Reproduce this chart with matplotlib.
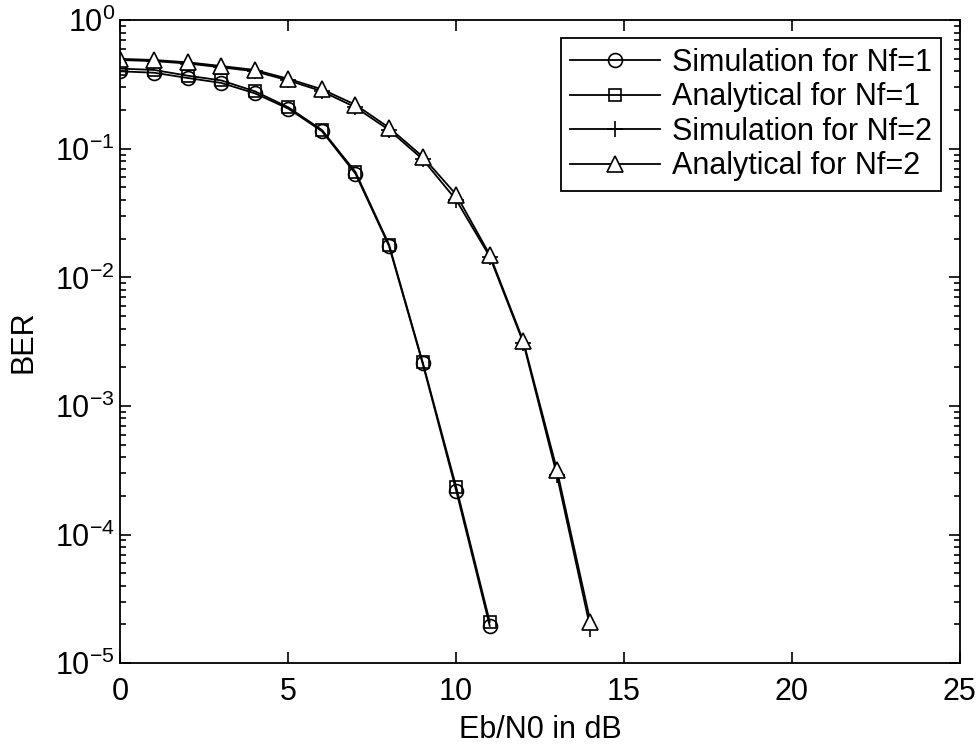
import numpy as np
import matplotlib
matplotlib.use('Agg')
import matplotlib.pyplot as plt

plt.rcParams['font.family'] = ['Liberation Sans', 'DejaVu Sans']
plt.rcParams['mathtext.fontset'] = 'custom'
plt.rcParams['mathtext.rm'] = 'Liberation Sans'
plt.rcParams['mathtext.it'] = 'Liberation Sans:italic'

# Eb/N0 (dB) and BER values
ebn0_nf1 = [0, 1, 2, 3, 4, 5, 6, 7, 8, 9, 10, 11]
sim_nf1 = [0.40, 0.39, 0.355, 0.325, 0.27, 0.205, 0.137, 0.064, 0.0175, 0.00215, 2.2e-4, 1.95e-5]
ana_nf1 = [0.42, 0.41, 0.37, 0.34, 0.28, 0.21, 0.14, 0.066, 0.018, 0.0022, 2.35e-4, 2.1e-5]

ebn0_nf2 = [0, 1, 2, 3, 4, 5, 6, 7, 8, 9, 10, 11, 12, 13, 14]
sim_nf2 = [0.49, 0.48, 0.46, 0.43, 0.40, 0.34, 0.28, 0.21, 0.14, 0.083, 0.040, 0.0145, 0.0031, 2.9e-4, 1.85e-5]
ana_nf2 = [0.50, 0.49, 0.47, 0.44, 0.41, 0.35, 0.29, 0.22, 0.146, 0.087, 0.044, 0.015, 0.0032, 3.2e-4, 2.1e-5]

fs = 22
fig = plt.figure(figsize=(9.77, 7.46), dpi=100)
ax = fig.add_axes([0.1233, 0.111, 0.859, 0.862])

lw = 1.3
ax.semilogy(ebn0_nf1, sim_nf1, 'k-o', mfc='none', ms=10, lw=lw, mew=1.2, label='Simulation for Nf=1')
ax.semilogy(ebn0_nf1, ana_nf1, 'k-s', mfc='none', ms=9, lw=lw, mew=1.2, label='Analytical for Nf=1')
ax.semilogy(ebn0_nf2, sim_nf2, 'k-+', ms=12, lw=lw, mew=1.2, label='Simulation for Nf=2')
ax.semilogy(ebn0_nf2, ana_nf2, 'k-^', mfc='white', ms=11, lw=lw, mew=1.2, label='Analytical for Nf=2')

ax.set_xlim(0, 25)
ax.set_ylim(1e-5, 1)
ax.set_xticks([0, 5, 10, 15, 20, 25])
ax.set_yticks([1e-5, 1e-4, 1e-3, 1e-2, 1e-1, 1])
ax.tick_params(which='both', direction='in', top=True, right=True, labelsize=fs, width=1.2)
ax.tick_params(which='major', length=8)
ax.tick_params(which='minor', length=4)
ax.tick_params(axis='x', pad=10)
ax.tick_params(axis='y', pad=4)
for s in ax.spines.values():
    s.set_linewidth(1.3)

ax.set_xlabel('Eb/N0 in dB', fontsize=fs, labelpad=6)
ax.set_ylabel('BER', fontsize=fs, labelpad=12)

leg = ax.legend(loc='upper right', fontsize=fs, fancybox=False, edgecolor='black',
                handlelength=2.95, handletextpad=0.4, borderpad=0.3, labelspacing=0.15,
                borderaxespad=0.6, framealpha=1)
leg.get_frame().set_linewidth(1.3)

fig.savefig('out.png', dpi=100)
